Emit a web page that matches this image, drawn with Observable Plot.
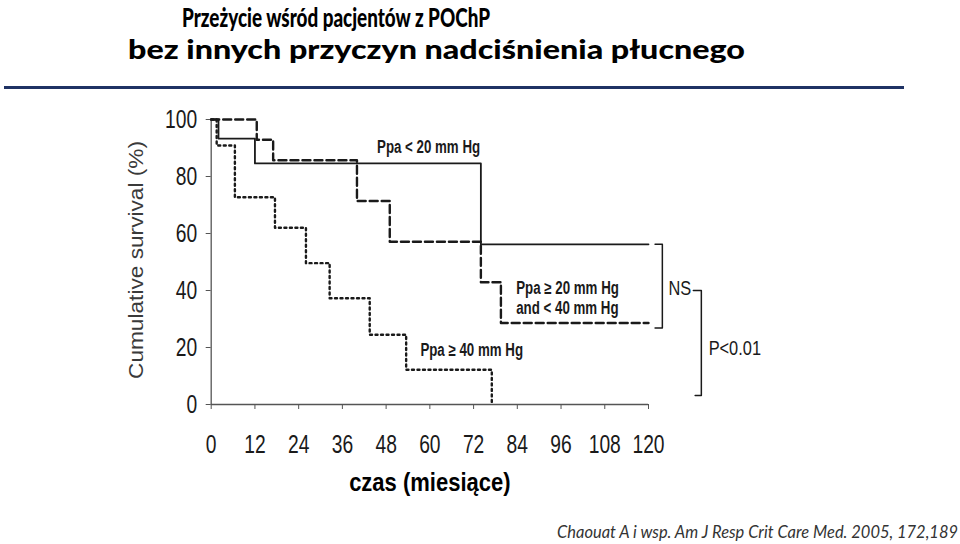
<!DOCTYPE html>
<html><head><meta charset="utf-8">
<script src="https://cdn.jsdelivr.net/npm/d3@7"></script>
<script src="https://cdn.jsdelivr.net/npm/@observablehq/plot@0.6"></script>
<style>
html,body{margin:0;padding:0;background:#fff;}
body{width:960px;height:544px;overflow:hidden;position:relative;}
.t{position:absolute;white-space:nowrap;transform-origin:0 0;line-height:normal;}
.title{font-family:Lato,"Open Sans",sans-serif;font-weight:900;font-size:27px;color:#000;}
#rule{position:absolute;left:4px;top:86px;width:900px;height:3px;background:#1f3264;}
#cap{font-family:Lato,"Liberation Sans",sans-serif;font-style:italic;font-weight:400;font-size:17px;color:#333;}
#chart{position:absolute;left:0;top:0;}
</style></head><body>
<div id="chart"></div>
<div class="t title" id="t1">Przeżycie wśród pacjentów z POChP</div>
<div class="t title" id="t2">bez innych przyczyn nadciśnienia płucnego</div>
<div id="rule"></div>
<div class="t" id="cap">Chaouat A i wsp. Am J Resp Crit Care Med.  2005, 172,189</div>
<script>
// ---- data ----
const monthTicks = [0, 12, 24, 36, 48, 60, 72, 84, 96, 108, 120];
const survivalTicks = [0, 20, 40, 60, 80, 100];

const lowTime  = [0, 2, 12, 74, 120];
const lowSurv  = [100, 93.3, 84.6, 56.2, 56.2];

const midTime  = [0, 12.5, 17, 40, 49, 74, 79.5, 120];
const midSurv  = [100, 92.9, 85.7, 71.4, 57.1, 42.9, 28.6, 28.6];

const highTime = [0, 1.5, 6.5, 17.5, 26, 32.5, 43.5, 53.5, 77];
const highSurv = [100, 90.9, 72.7, 62, 49.6, 37.3, 24.5, 12.2, 0];

const curveLabels = [
  {text: "Ppa < 20 mm Hg", t: 45.5, s: 90.2},
  {text: "Ppa ≥ 20 mm Hg", t: 83.7, s: 40.7},
  {text: "and < 40 mm Hg", t: 83.7, s: 33.7},
  {text: "Ppa ≥ 40 mm Hg", t: 57.4, s: 18.9}
];
const statLabels = [
  {text: "NS", t: 125.5, s: 40.7},
  {text: "P<0.01", t: 136.5, s: 19.6}
];
const bracketNS = [[121.8, 56.2], [123.8, 56.2], [123.8, 26.8], [121.8, 26.8]];
const bracketP  = [[132.3, 40], [134.5, 40], [134.5, 3.2], [132.8, 3.2]];

const yTitle = "Cumulative survival (%)";
const xTitle = "czas (miesiące)";

const toRows = (ts, ss) => ts.map((t, i) => ({t, s: ss[i]}));
const low = toRows(lowTime, lowSurv);
const mid = toRows(midTime, midSurv);
const high = toRows(highTime, highSurv);
const toPts = a => a.map(([t, s]) => ({t, s}));

const ink = "#1a1a1a";
const sans = '"Liberation Sans",Arial,sans-serif';

const plot = Plot.plot({
  width: 960, height: 544,
  marginLeft: 210.7, marginRight: 312, marginTop: 119, marginBottom: 140,
  x: {domain: [0, 120]},
  y: {domain: [0, 100]},
  style: {fontFamily: sans, color: ink, background: "transparent", overflow: "visible"},
  marks: [
    Plot.ruleX([0], {stroke: "#555", strokeWidth: 1.3}),
    Plot.ruleY([0], {stroke: "#555", strokeWidth: 1.3}),
    Plot.axisX({ticks: monthTicks, tickSize: 5, tickPadding: 25, fontSize: 26, stroke: "#555", label: null, tickFormat: d => d}),
    Plot.axisY({ticks: survivalTicks, tickSize: 5, tickPadding: 9, fontSize: 26, stroke: "#555", label: null}),
    Plot.text([yTitle], {frameAnchor: "left", dx: -75, dy: -2, rotate: -90, textAnchor: "middle", fontSize: 20, fill: "#3a3a3a"}),
    Plot.text([xTitle], {frameAnchor: "bottom", dy: 86, textAnchor: "middle", fontSize: 25, fontWeight: "bold", fill: "#000"}),
    Plot.line(low,  {x: "t", y: "s", curve: "step-after", stroke: ink, strokeWidth: 1.8}),
    Plot.line(mid,  {x: "t", y: "s", curve: "step-after", stroke: ink, strokeWidth: 2.4, strokeDasharray: "8,4"}),
    Plot.line(high, {x: "t", y: "s", curve: "step-after", stroke: ink, strokeWidth: 2.4, strokeDasharray: "2,3.5"}),
    Plot.text(curveLabels, {x: "t", y: "s", text: "text", textAnchor: "start", fontSize: 17.5, fontWeight: "bold", fill: ink}),
    Plot.line(toPts(bracketNS), {x: "t", y: "s", stroke: ink, strokeWidth: 1.5}),
    Plot.line(toPts(bracketP),  {x: "t", y: "s", stroke: ink, strokeWidth: 1.5}),
    Plot.text(statLabels, {x: "t", y: "s", text: "text", textAnchor: "start", fontSize: 21, fill: ink})
  ]
});
document.getElementById("chart").appendChild(plot);

// condense the narrow-font texts of the original figure
const tickSet = new Set([...monthTicks, ...survivalTicks].map(String));
const curveSet = new Set(curveLabels.map(d => d.text));
const statSet = new Set(statLabels.map(d => d.text));
plot.querySelectorAll("text").forEach(n => {
  const s = n.textContent;
  let f = null, fixed = null;
  if (tickSet.has(s)) f = 0.74;
  else if (curveSet.has(s)) f = 0.76;
  else if (statSet.has(s)) f = 0.78;
  else if (s === xTitle) f = 0.88;
  else if (s === yTitle) fixed = 238;
  if (f == null && fixed == null) return;
  const w = fixed != null ? fixed : n.getComputedTextLength() * f;
  n.setAttribute("textLength", w);
  n.setAttribute("lengthAdjust", "spacingAndGlyphs");
});

// fit HTML texts to the reference extents
function fit(id, left, top, width) {
  const el = document.getElementById(id);
  el.style.left = left + "px";
  el.style.top = top + "px";
  const w = el.getBoundingClientRect().width;
  el.style.transform = `scaleX(${width / w})`;
}
fit("t1", 182, 0, 308);
fit("t2", 128, 32, 617);
fit("cap", 557, 521, 401);
</script>
</body></html>
